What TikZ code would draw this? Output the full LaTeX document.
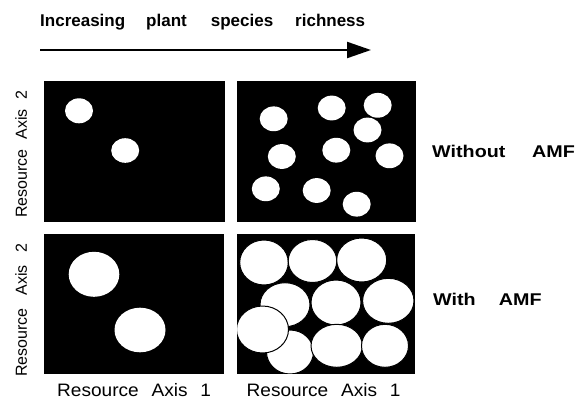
\documentclass[tikz,border=0pt]{standalone}
\usepackage{fontspec}
\setmainfont{Liberation Sans}
\usetikzlibrary{arrows.meta}
\begin{document}
\begin{tikzpicture}[x=1pt,y=-1pt,
  panel/.style={fill=black,draw=black,line width=0.8pt},
  spot/.style={fill=white},
  bigspot/.style={fill=white,draw=black,line width=1pt},
  boldlab/.style={inner sep=0pt,font=\bfseries\fontsize{17}{17}\selectfont},
  axlab/.style={inner sep=0pt,font=\fontsize{18}{18}\selectfont,xscale=1.06},
  vlab/.style={inner sep=0pt,font=\fontsize{16}{16}\selectfont,rotate=90,anchor=base west},
  richarrow/.style={line width=2.2pt,-{Triangle[length=24pt,width=16pt]}}]
\useasboundingbox (0,0) rectangle (582,400);

% title and arrow
\node[boldlab,anchor=base west] (title) at (40,26)
  {Increasing\hspace{21pt}plant\hspace{24pt}species\hspace{22pt}richness};
\coordinate (aS) at (40,50);
\coordinate (aE) at (371,50);
\draw[richarrow] (aS) -- (aE);

% panels
\fill[panel] (44,81.5) rectangle (224.5,221.5);
\fill[panel] (237,81.5) rectangle (415.5,221.5);
\fill[panel] (44,234.5) rectangle (223.5,373.5);
\fill[panel] (237,234.5) rectangle (414.5,373.5);

% top left spots
\fill[spot] (79,110.8) ellipse [x radius=14, y radius=12.5];
\fill[spot] (125.2,150.5) ellipse [x radius=14, y radius=12.3];

% top right spots
\foreach \cx/\cy in {273.7/118.8, 331.7/108, 377.7/105.3, 367.5/130,
                     281.8/156.5, 336.3/150.2, 389.5/155.8,
                     265.8/188.8, 316.7/190.5, 356.7/204.2}
  \fill[spot] (\cx,\cy) ellipse [x radius=14, y radius=12.4];

% bottom left spots
\fill[spot] (94,274.3) ellipse [x radius=25.3, y radius=22.5];
\fill[spot] (140,330) ellipse [x radius=25.5, y radius=22.3];

% bottom right spots
\begin{scope}
  \clip (237,234.5) rectangle (414.5,373.5);
  \draw[bigspot] (285,304.7) ellipse [x radius=25, y radius=22];
  \draw[bigspot] (336,302.5) ellipse [x radius=25, y radius=22.5];
  \draw[bigspot] (388.3,300.8) ellipse [x radius=25.7, y radius=22.5];
  \draw[bigspot] (290,352) ellipse [x radius=23.5, y radius=22];
  \draw[bigspot] (336.7,345.8) ellipse [x radius=25.7, y radius=21.5];
  \draw[bigspot] (385,345.8) ellipse [x radius=23.5, y radius=21.5];
  \draw[bigspot] (264,262.5) ellipse [x radius=24.3, y radius=22.5];
  \draw[bigspot] (312.5,261) ellipse [x radius=24.3, y radius=21.5];
  \draw[bigspot] (361.7,260) ellipse [x radius=25, y radius=22];
  \draw[bigspot] (262.5,329.5) ellipse [x radius=26, y radius=23.5];
\end{scope}

% axis labels
\node[vlab] (ylabTop) at (27,218) {Resource\hspace{10pt}Axis\hspace{10pt}2};
\node[vlab] (ylabBot) at (27,377) {Resource\hspace{13pt}Axis\hspace{13pt}2};
\node[axlab,anchor=base west] (xlabL) at (57,396.5) {Resource\hspace{12pt}Axis\hspace{12pt}1};
\node[axlab,anchor=base west] (xlabR) at (246.5,396.5) {Resource\hspace{12pt}Axis\hspace{12pt}1};

% row labels
\node[boldlab,anchor=base west,xscale=1.16] (without) at (432,157) {Without\hspace{23pt}AMF};
\node[boldlab,anchor=base west,xscale=1.16] (with) at (433,305) {With\hspace{20pt}AMF};
\end{tikzpicture}
\end{document}
